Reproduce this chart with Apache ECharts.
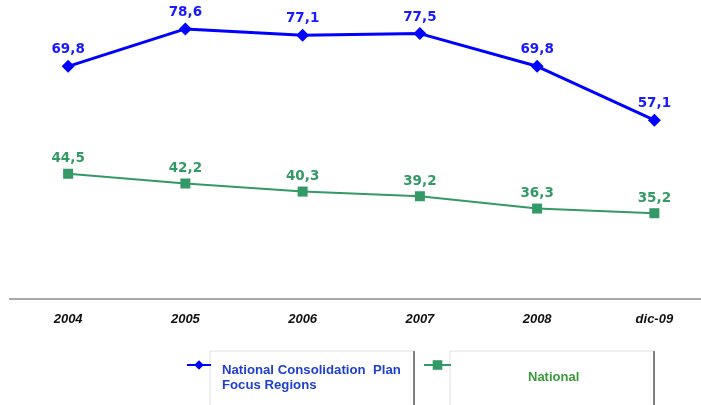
<!DOCTYPE html>
<html>
<head>
<meta charset="utf-8">
<script src="https://cdn.jsdelivr.net/npm/echarts@6/dist/echarts.min.js"></script>
<style>
html,body{margin:0;padding:0;background:#fff;overflow:hidden;width:701px;height:405px;}
#c{width:713px;height:405px;}
</style>
</head>
<body>
<div id="c"></div>
<script>
var categories = ['2004', '2005', '2006', '2007', '2008', 'dic-09'];
var focusRegions = [69.8, 78.6, 77.1, 77.5, 69.8, 57.1];
var national = [44.5, 42.2, 40.3, 39.2, 36.3, 35.2];
var seriesNames = ['National Consolidation  Plan\nFocus Regions', 'National'];

function fmt(p) { return String(p.value.toFixed(1)).replace('.', ','); }
function legendFmt(name) {
  return '{s|}\n' + name.split('\n').map(function (l) { return '{t|' + l + '}'; }).join('\n');
}

var chart = echarts.init(document.getElementById('c'));
chart.setOption({
  animation: false,
  backgroundColor: '#ffffff',
  grid: { left: 9.5, right: 0, top: 23, bottom: 106 },
  xAxis: {
    type: 'category',
    data: categories,
    boundaryGap: true,
    axisLine: { lineStyle: { color: '#8c8c8c', width: 1.5 } },
    axisTick: { show: false },
    axisLabel: {
      margin: 14,
      color: '#111',
      fontFamily: 'Liberation Sans',
      fontWeight: 'bold',
      fontStyle: 'italic',
      fontSize: 13
    }
  },
  yAxis: {
    type: 'value',
    min: 15,
    max: 80,
    show: false,
    splitLine: { show: false }
  },
  graphic: [
    { type: 'polyline', shape: { points: [[210, 405], [210, 351], [414, 351]] }, style: { stroke: '#e0e0e0', lineWidth: 1, fill: null } },
    { type: 'line', shape: { x1: 414, y1: 351, x2: 414, y2: 405 }, style: { stroke: '#808080', lineWidth: 2 } },
    { type: 'polyline', shape: { points: [[450, 405], [450, 351], [654, 351]] }, style: { stroke: '#e0e0e0', lineWidth: 1, fill: null } },
    { type: 'line', shape: { x1: 654, y1: 351, x2: 654, y2: 405 }, style: { stroke: '#808080', lineWidth: 2 } }
  ],
  legend: [
    {
      data: [seriesNames[0]],
      left: 186,
      top: 337.5,
      padding: 0,
      itemWidth: 24,
      itemHeight: 12,
      selectedMode: false,
      formatter: legendFmt,
      textStyle: {
        padding: [0, 0, 0, 6],
        rich: {
          s: { lineHeight: 25, height: 25 },
          t: {
            color: '#1f3fd0',
            fontFamily: 'Liberation Sans',
            fontWeight: 'bold',
            fontSize: 13.2,
            lineHeight: 15
          }
        }
      }
    },
    {
      data: [seriesNames[1]],
      left: 423,
      top: 346,
      padding: 0,
      itemWidth: 27,
      itemHeight: 12,
      selectedMode: false,
      formatter: legendFmt,
      textStyle: {
        padding: [0, 0, 0, 72],
        rich: {
          s: { lineHeight: 24, height: 24 },
          t: {
            color: '#3a9a3a',
            fontFamily: 'Liberation Sans',
            fontWeight: 'bold',
            fontSize: 13,
            lineHeight: 14
          }
        }
      }
    }
  ],
  series: [
    {
      name: seriesNames[0],
      type: 'line',
      data: focusRegions,
      symbol: 'diamond',
      symbolSize: 13,
      lineStyle: { color: '#0000ff', width: 3 },
      itemStyle: { color: '#0000ff' },
      label: {
        show: true,
        position: 'top',
        distance: 3,
        formatter: fmt,
        color: '#1a1aff',
        fontFamily: 'DejaVu Sans',
        fontWeight: 'bold',
        fontSize: 13.5
      }
    },
    {
      name: seriesNames[1],
      type: 'line',
      data: national,
      symbol: 'rect',
      symbolSize: 10,
      lineStyle: { color: '#339966', width: 2 },
      itemStyle: { color: '#339966' },
      label: {
        show: true,
        position: 'top',
        distance: 3,
        formatter: fmt,
        color: '#339966',
        fontFamily: 'DejaVu Sans',
        fontWeight: 'bold',
        fontSize: 13.5
      }
    }
  ]
});
</script>
</body>
</html>
